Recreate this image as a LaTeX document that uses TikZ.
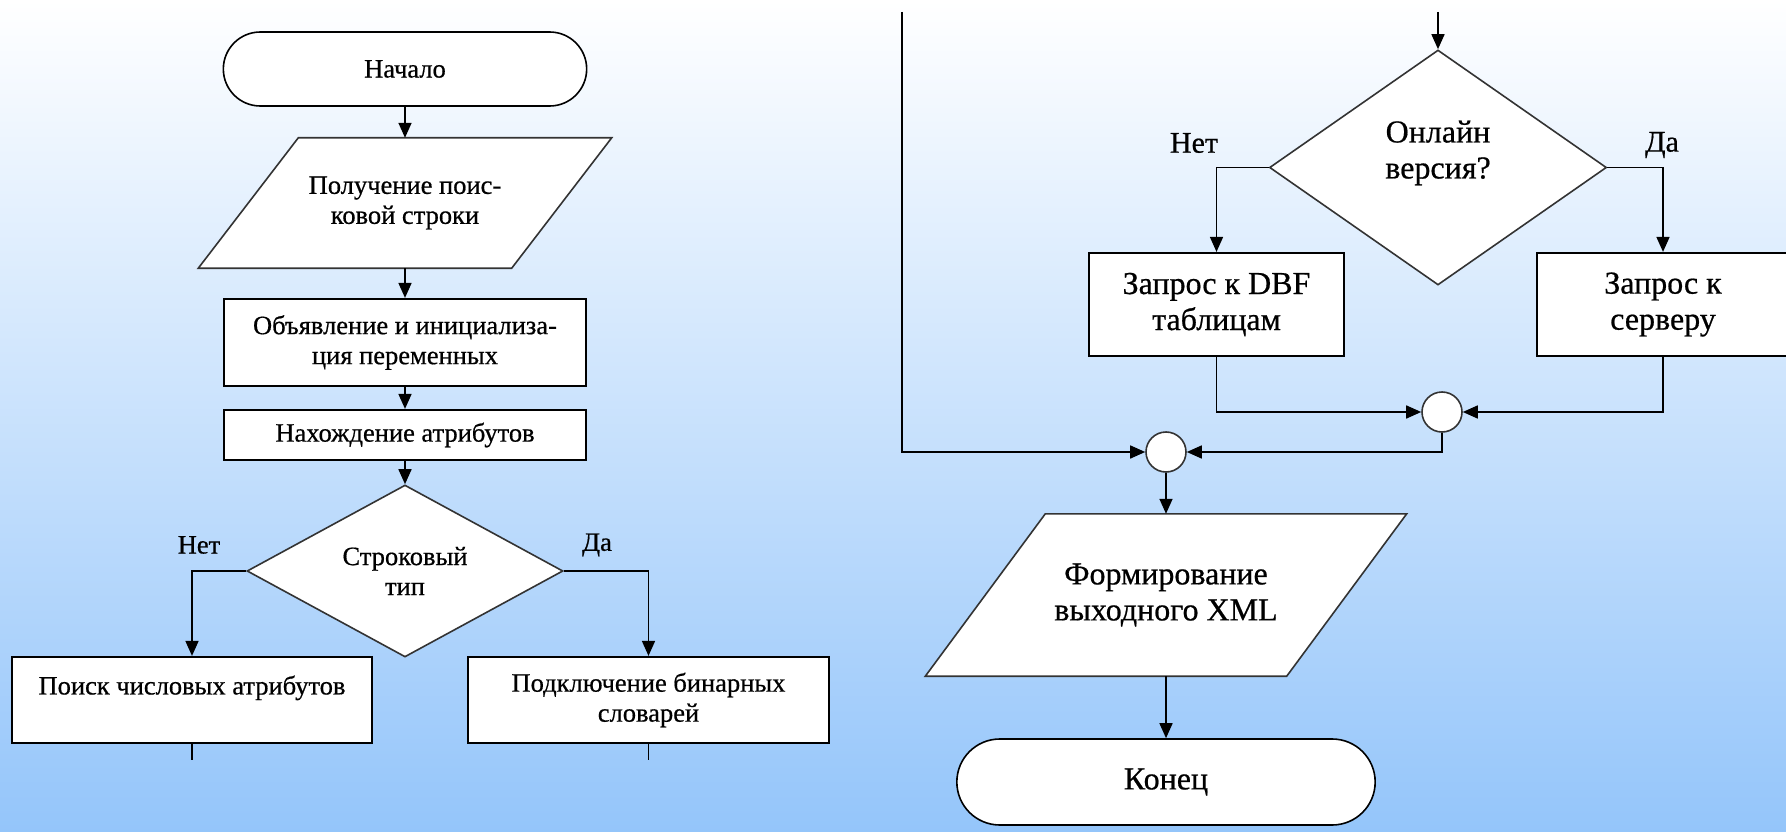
\documentclass[tikz,border=0pt]{standalone}
\usepackage{fontspec}
\setmainfont{Liberation Serif}[FakeBold=0.6]
\usepackage{tikz}
\usetikzlibrary{arrows.meta}
\usetikzlibrary{positioning, shapes.geometric, shapes.misc, backgrounds}
\definecolor{skytop}{RGB}{255,255,255}
\definecolor{skybottom}{RGB}{148,197,250}
\tikzset{
terminal/.style = { rounded rectangle, draw = black, fill = white, line width = 1.6pt, minimum width = 370, minimum height = 74 },
process/.style = { rectangle, draw = black, fill = white, line width = 2.2pt, minimum width = 362, minimum height = 87, align = center },
decision/.style = { diamond, draw = black!80, fill = white, line width = 1.6pt, inner sep = 0pt, aspect = 1.8, minimum width = 316, minimum height = 172, align = center },
junction/.style = { circle, draw = black!80, fill = white, line width = 1.6pt, inner sep = 0pt, minimum size = 40 },
io/.style = { rectangle, draw = none, minimum width = 313, minimum height = 130, align = center },
io shape/.style = { draw = black!80, fill = white, line width = 1.6pt },
}

\begin{document}
\begin{tikzpicture}[x=1pt, y=-1pt, font=\fontsize{26.5}{30}\selectfont]
    \useasboundingbox (0,0) rectangle (1786,832);
    % left column
    \node[terminal] (start) at (405,69) {Начало};
    \node[io] (get) at (405,203) {Получение поис-\\ковой строки};
    \node[process] (decl) at (405,342.5) {Объявление и инициализа-\\ция переменных};
    \node[process, minimum height = 50] (attr) at (405,435) {Нахождение атрибутов};
    \node[decision] (strtype) at (405,571) {Строковый\\тип};
    \node (no1) at (199,545) {Нет};
    \node (yes1) at (597,545) {Да};
    \node[process, minimum width = 360, minimum height = 86] (numsearch) at (192,700) {Поиск числовых атрибутов\\\mbox{}};
    \node[process, minimum width = 361, minimum height = 86] (binconn) at (648.5,700) {Подключение бинарных\\словарей};
    \coordinate (numout) at (192,760);
    \coordinate (binout) at (648.5,760);
    % right column
    \begin{scope}[font=\fontsize{32}{36}\selectfont]
      \coordinate (loopin) at (902,12);
      \coordinate (onlinein) at (1438,12);
      \node[decision, minimum width = 337, minimum height = 235, aspect = 1.43] (online) at (1438,167.5) {Онлайн\\версия?\\\mbox{}};
      \node[font=\fontsize{30}{36}\selectfont] (no2) at (1194,143) {Нет};
      \node[font=\fontsize{30}{36}\selectfont] (yes2) at (1662,145) {Да};
      \node[process, minimum width = 255, minimum height = 103] (dbf) at (1216.5,304.5) {Запрос к DBF\\таблицам};
      \node[process, minimum width = 252, minimum height = 103] (server) at (1663,304.5) {Запрос к\\серверу};
      \node[junction] (join1) at (1442,412) {};
      \node[junction] (join2) at (1166,452) {};
      \node[io, minimum width = 361, minimum height = 162] (xml) at (1166,595) {Формирование\\выходного XML};
      \node[terminal, minimum width = 425, minimum height = 86] (finish) at (1166,782) {Конец};
    \end{scope}
    \begin{scope}[on background layer]
      \shade[top color=skytop, bottom color=skybottom] (0,0) rectangle (1786,832);
      \path[io shape] ([xshift=50pt]get.north west) -- ([xshift=50pt]get.north east) -- ([xshift=-50pt]get.south east) -- ([xshift=-50pt]get.south west) -- cycle;
      \path[io shape] ([xshift=60pt]xml.north west) -- ([xshift=60pt]xml.north east) -- ([xshift=-60pt]xml.south east) -- ([xshift=-60pt]xml.south west) -- cycle;
    \end{scope}
    \begin{scope}[>={Triangle[length=15pt, width=13pt]},
                  every edge/.style={draw=black, line width=1.6pt}]
      \path [->] (start) edge (get);
      \path [->] (get) edge (decl);
      \path [->] (decl) edge (attr);
      \path [->] (attr) edge (strtype);
      \path [-] (numsearch) edge (numout);
      \path [-] (binconn) edge (binout);
      \path [->] (onlinein) edge (online);
      \path [->] (join2) edge (xml);
      \path [->] (xml) edge (finish);
    \end{scope}
    \begin{scope}[>={Triangle[length=15pt, width=13pt]}, line width=1.6pt]
      \draw [->] (strtype.west) -| (numsearch.north);
      \draw [->] (strtype.east) -| (binconn.north);
      \draw [->] (online.west) -| (dbf.north);
      \draw [->] (online.east) -| (server.north);
      \draw [->] (dbf.south) |- (join1.west);
      \draw [->] (server.south) |- (join1.east);
      \draw [->] (join1.south) |- (join2.east);
      \draw [->] (loopin) |- (join2.west);
    \end{scope}
  \end{tikzpicture}
\end{document}
